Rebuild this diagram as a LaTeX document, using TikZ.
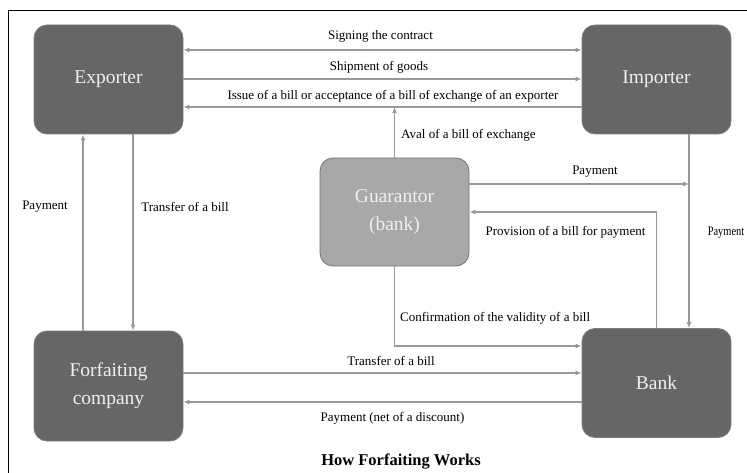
\documentclass[tikz,border=0pt]{standalone}
\usepackage{fontspec}
\setmainfont{Liberation Serif}
\usetikzlibrary{arrows.meta}
\definecolor{boxdark}{HTML}{666666}
\definecolor{boxlight}{HTML}{A8A8A8}
\definecolor{linegray}{HTML}{9A9A9A}
\tikzset{
  party/.style={draw=boxdark!85!white, line width=0.8pt, fill=boxdark, rounded corners=13pt,
    minimum width=149pt, minimum height=109pt, text=white!94!black, align=center,
    font=\fontsize{19.5}{28}\selectfont, inner sep=0pt},
  guar/.style={party, fill=boxlight, draw=black!55},
  flow/.style={draw=linegray, line width=1.3pt, -{Latex[length=6pt,width=5pt]}},
  flowboth/.style={draw=linegray, line width=1.3pt, {Latex[length=6pt,width=5pt]}-{Latex[length=6pt,width=5pt]}},
  lbl/.style={font=\fontsize{13}{15}\selectfont, inner sep=0pt, text=black}
}
\begin{document}
\begin{tikzpicture}[x=1pt,y=-1pt]
\useasboundingbox (0,0) rectangle (747,473);
\fill[white] (0,0) rectangle (747,473);
\draw[black, line width=1pt] (8,473) -- (8,11) -- (747,11);

\node[party] (exp) at (108.5,79.5) {Exporter};
\node[party] (imp) at (656.5,79.5) {Importer};
\node[party, minimum height=110pt] (forf) at (108.5,386) {Forfaiting\\company};
\node[party] (bank) at (656.5,383) {Bank};
\node[guar, minimum height=108pt] (gua) at (394.5,212) {Guarantor\\(bank)};

% top flows
\draw[flowboth] (exp.east |- 0,50) -- (imp.west |- 0,50);
\draw[flow] (exp.east |- 0,79) -- (imp.west |- 0,79);
\draw[flow] (imp.west |- 0,107) -- (exp.east |- 0,107);
\node[lbl] (l1) at (380.5,36) {Signing the contract};
\node[lbl] (l2) at (379,67) {Shipment of goods};
\node[lbl] (l3) at (393,96) {Issue of a bill or acceptance of a bill of exchange of an exporter};

% aval
\draw[flow] (gua.north) -- (gua.north |- 0,107);
\node[lbl, anchor=west] (l4) at (401,135) {Aval of a bill of exchange};

% guarantor payment
\coordinate (pj) at (689,184);
\draw[flow] (gua.east |- pj) -- (pj);
\node[lbl] (l5) at (595,172) {Payment};

% provision
\draw[flow] (bank.north) |- (gua.east);
\node[lbl] (l6) at (565.5,232) {Provision of a bill for payment};

% importer payment to bank
\draw[flow] (imp.south -| pj) -- (bank.north -| pj);
\node[lbl] (l7) at (726,233) {\scalebox{0.8}[1]{Payment}};

% confirmation
\draw[flow] (gua.south) |- (bank.west |- 0,346);
\node[lbl, anchor=west] (l8) at (400,318) {Confirmation of the validity of a bill};

% bottom flows
\draw[flow] (forf.east |- 0,373) -- (bank.west |- 0,373);
\draw[flow] (bank.west |- 0,402) -- (forf.east |- 0,402);
\node[lbl] (l9) at (391,361) {Transfer of a bill};
\node[lbl] (l10) at (392.5,418) {Payment (net of a discount)};

% left verticals
\draw[flow] (forf.north -| 83,0) -- (exp.south -| 83,0);
\draw[flow] (exp.south -| 133,0) -- (forf.north -| 133,0);
\node[lbl] (l11) at (45,207) {Payment};
\node[lbl] (l12) at (185,207) {Transfer of a bill};

\node[font=\bfseries\fontsize{16.5}{18}\selectfont, inner sep=0pt] (title) at (401,462) {How Forfaiting Works};
\end{tikzpicture}
\end{document}
